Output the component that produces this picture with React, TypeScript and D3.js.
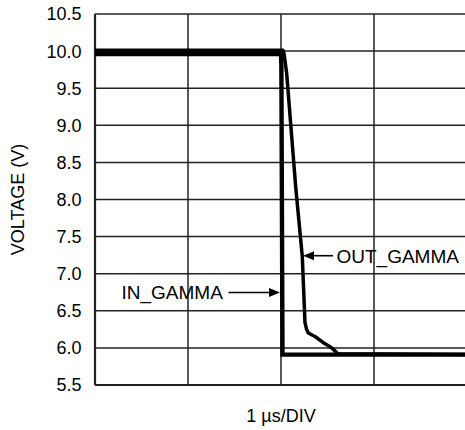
import React from "react";
import * as d3 from "d3";

// Data (x in divisions of 1 µs, y in volts)
const inGammaX = [0, 2.0, 2.004, 2.016, 4.2];
const inGammaY = [9.96, 9.96, 9.8, 5.91, 5.91];
const outGammaX = [0, 2.02, 2.032, 2.061, 2.158, 2.229, 2.258, 2.275, 2.294, 2.37, 2.455, 2.51, 2.545, 2.613, 4.2];
const outGammaY = [10.01, 10.01, 9.97, 9.70, 8.17, 7.23, 6.34, 6.25, 6.20, 6.15, 6.07, 6.03, 6.0, 5.92, 5.91];
const yTicks = [5.5, 6.0, 6.5, 7.0, 7.5, 8.0, 8.5, 9.0, 9.5, 10.0, 10.5];
const xDivs = [0, 1, 2, 3, 4];
const yLabel = "VOLTAGE (V)";
const xLabel = "1 µs/DIV";

const W = 465, H = 430;
const L = 95, R = 467, T = 14, B = 385;
const FONT = "Liberation Sans, Arial, sans-serif";

export default function App() {
  const x = d3.scaleLinear().domain([0, 4]).range([L, R]);
  const y = d3.scaleLinear().domain([5.5, 10.5]).range([B, T]);
  const line = d3.line<[number, number]>().x(d => x(d[0])).y(d => y(d[1]));
  const inPts = inGammaX.map((v, i) => [v, inGammaY[i]] as [number, number]);
  const outPts = outGammaX.map((v, i) => [v, outGammaY[i]] as [number, number]);

  const arrow = (x1: number, x2: number, yy: number) => {
    const dir = x2 > x1 ? 1 : -1;
    const hl = 11, hw = 4.5;
    return (
      <g>
        <line x1={x1} x2={x2 - dir * hl} y1={yy} y2={yy} stroke="#000" strokeWidth={1.6} />
        <path d={`M${x2},${yy} L${x2 - dir * hl},${yy - hw} L${x2 - dir * hl},${yy + hw} Z`} fill="#000" />
      </g>
    );
  };

  return (
    <svg width={W} height={H} style={{ position: "absolute", left: 0, top: 0, background: "#fff" }}>
      <defs>
        <clipPath id="plot">
          <rect x={L} y={T - 5} width={R - L} height={B - T + 5} />
        </clipPath>
      </defs>
      <rect width={W} height={H} fill="#fff" />
      {yTicks.map(t => (
        <line key={"h" + t} x1={L} x2={R} y1={y(t)} y2={y(t)} stroke="#222" strokeWidth={t === 5.5 ? 2.2 : 1.5} />
      ))}
      {xDivs.map(d => (
        <line key={"v" + d} x1={x(d)} x2={x(d)} y1={T} y2={B} stroke="#222" strokeWidth={d === 0 ? 2.2 : 1.5} />
      ))}
      {yTicks.map(t => (
        <text key={"t" + t} x={81.5} y={y(t)} dy="0.36em" textAnchor="end" fontFamily={FONT} fontSize={18} fill="#000">
          {t.toFixed(1)}
        </text>
      ))}
      <g clipPath="url(#plot)">
        <path d={line(outPts) || ""} fill="none" stroke="#000" strokeWidth={3.5} strokeLinejoin="round" />
        <path d={line(inPts) || ""} fill="none" stroke="#000" strokeWidth={4.4} strokeLinejoin="miter" />
      </g>
      {arrow(333, 303, 255.7)}
      <text x={336.5} y={262.5} fontFamily={FONT} fontSize={19} fill="#000">OUT_GAMMA</text>
      <text x={121.5} y={299} fontFamily={FONT} fontSize={19} fill="#000">IN_GAMMA</text>
      {arrow(228.5, 280, 292.5)}
      <text transform={`translate(23.5, ${(T + B) / 2}) rotate(-90)`} textAnchor="middle" fontFamily={FONT} fontSize={18} fill="#000">
        {yLabel}
      </text>
      <text x={(L + R) / 2} y={421.5} textAnchor="middle" fontFamily={FONT} fontSize={18} fill="#000">
        {xLabel}
      </text>
    </svg>
  );
}
